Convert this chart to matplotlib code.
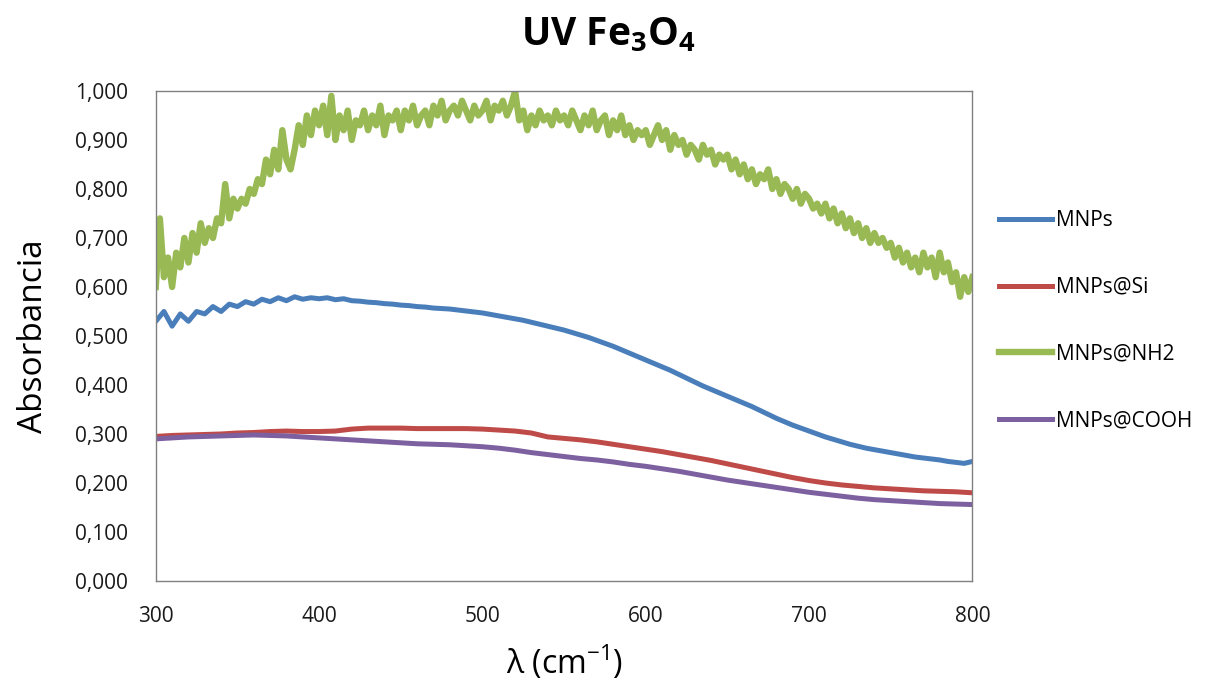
import numpy as np
import matplotlib
matplotlib.use("Agg")
import matplotlib.pyplot as plt
from matplotlib.ticker import FuncFormatter

plt.rcParams['font.family'] = ['Open Sans', 'DejaVu Sans']
plt.rcParams['mathtext.fontset'] = 'custom'
plt.rcParams['mathtext.rm'] = 'Open Sans'
plt.rcParams['mathtext.bf'] = 'Open Sans:bold'

# series data
wl_nh2 = np.arange(300, 800.1, 2.5)
mnps_nh2 = [
    0.60, 0.74, 0.62, 0.66, 0.60, 0.67, 0.64, 0.70, 0.65, 0.71, 0.67, 0.73, 0.69, 0.72, 0.70, 0.74, 0.73, 0.81, 0.74, 0.78,
    0.76, 0.78, 0.77, 0.80, 0.79, 0.82, 0.81, 0.86, 0.83, 0.88, 0.84, 0.92, 0.86, 0.84, 0.88, 0.93, 0.89, 0.95, 0.91, 0.96,
    0.93, 0.97, 0.91, 0.99, 0.90, 0.95, 0.92, 0.96, 0.90, 0.94, 0.93, 0.96, 0.92, 0.95, 0.93, 0.97, 0.91, 0.95, 0.94, 0.96,
    0.92, 0.96, 0.94, 0.97, 0.93, 0.95, 0.96, 0.93, 0.97, 0.95, 0.98, 0.94, 0.96, 0.97, 0.95, 0.98, 0.96, 0.94, 0.97, 0.95,
    0.96, 0.98, 0.94, 0.97, 0.96, 0.98, 0.95, 0.97, 1.00, 0.94, 0.96, 0.92, 0.95, 0.93, 0.96, 0.94, 0.95, 0.93, 0.96, 0.94,
    0.95, 0.93, 0.96, 0.94, 0.92, 0.95, 0.93, 0.96, 0.92, 0.94, 0.95, 0.91, 0.94, 0.92, 0.95, 0.91, 0.93, 0.90, 0.92, 0.91,
    0.92, 0.89, 0.91, 0.93, 0.90, 0.92, 0.88, 0.91, 0.89, 0.90, 0.87, 0.89, 0.88, 0.86, 0.89, 0.87, 0.88, 0.85, 0.87, 0.86,
    0.87, 0.84, 0.86, 0.83, 0.85, 0.82, 0.84, 0.81, 0.83, 0.82, 0.84, 0.80, 0.82, 0.79, 0.81, 0.80, 0.78, 0.80, 0.77, 0.79,
    0.78, 0.76, 0.77, 0.75, 0.77, 0.74, 0.76, 0.73, 0.75, 0.72, 0.74, 0.71, 0.73, 0.70, 0.72, 0.69, 0.71, 0.69, 0.70, 0.68,
    0.69, 0.66, 0.68, 0.65, 0.67, 0.64, 0.66, 0.63, 0.67, 0.64, 0.66, 0.62, 0.67, 0.63, 0.65, 0.61, 0.63, 0.58, 0.62, 0.59,
    0.62,
]

wl_mnps = np.arange(300, 800.1, 5)
mnps = [
    0.53, 0.55, 0.52, 0.545, 0.53, 0.55, 0.545, 0.56, 0.55, 0.565,
    0.56, 0.57, 0.565, 0.575, 0.57, 0.578, 0.572, 0.58, 0.575, 0.578,
    0.576, 0.578, 0.574, 0.576, 0.572, 0.571, 0.569, 0.568, 0.566, 0.565,
    0.563, 0.562, 0.560, 0.559, 0.557, 0.556, 0.555, 0.553, 0.551, 0.549,
    0.547, 0.544, 0.541, 0.538, 0.535, 0.532, 0.528, 0.524, 0.520, 0.516,
    0.512, 0.507, 0.502, 0.497, 0.491, 0.485, 0.479, 0.472, 0.465, 0.458,
    0.451, 0.444, 0.437, 0.430, 0.422, 0.414, 0.406, 0.398, 0.391, 0.384,
    0.377, 0.370, 0.363, 0.356, 0.348, 0.340, 0.332, 0.325, 0.318, 0.312,
    0.306, 0.300, 0.294, 0.289, 0.284, 0.279, 0.275, 0.271, 0.268, 0.265,
    0.262, 0.259, 0.256, 0.253, 0.251, 0.249, 0.247, 0.244, 0.242, 0.240,
    0.244,
]

wl_10 = np.arange(300, 800.1, 10)
mnps_si = [
    0.295, 0.297, 0.298, 0.299, 0.300, 0.302, 0.303, 0.305, 0.306, 0.305,
    0.305, 0.306, 0.310, 0.312, 0.312, 0.312, 0.311, 0.311, 0.311, 0.311,
    0.310, 0.308, 0.306, 0.302, 0.294, 0.291, 0.288, 0.284, 0.279, 0.274,
    0.269, 0.264, 0.258, 0.252, 0.246, 0.239, 0.232, 0.225, 0.218, 0.211,
    0.205, 0.200, 0.196, 0.193, 0.190, 0.188, 0.186, 0.184, 0.183, 0.182,
    0.180,
]
mnps_cooh = [
    0.290, 0.292, 0.294, 0.295, 0.296, 0.297, 0.298, 0.297, 0.296, 0.294,
    0.292, 0.290, 0.288, 0.286, 0.284, 0.282, 0.280, 0.279, 0.278, 0.276,
    0.274, 0.271, 0.267, 0.262, 0.258, 0.254, 0.250, 0.247, 0.243, 0.238,
    0.234, 0.229, 0.224, 0.218, 0.212, 0.206, 0.201, 0.196, 0.191, 0.186,
    0.181, 0.177, 0.173, 0.169, 0.166, 0.164, 0.162, 0.160, 0.158, 0.157,
    0.156,
]

labels = ['MNPs', 'MNPs@Si', 'MNPs@NH2', 'MNPs@COOH']
colors = ['#4A7EBB', '#BE4B48', '#98B954', '#7D60A0']

fig = plt.figure(figsize=(12.17, 6.84), dpi=100)
ax = fig.add_axes([0.128, 0.1506, 0.671, 0.7164])

ax.plot(wl_mnps, mnps, color=colors[0], lw=3.6, label=labels[0])
ax.plot(wl_10, mnps_si, color=colors[1], lw=3.6, label=labels[1])
ax.plot(wl_nh2, mnps_nh2, color=colors[2], lw=4.6, label=labels[2])
ax.plot(wl_10, mnps_cooh, color=colors[3], lw=3.6, label=labels[3])

ax.set_xlim(300, 800)
ax.set_ylim(0, 1.0)
ax.set_xticks(np.arange(300, 801, 100))
ax.set_yticks(np.arange(0, 1.01, 0.1))
ax.yaxis.set_major_formatter(FuncFormatter(lambda v, p: f"{v:.3f}".replace('.', ',')))
ax.tick_params(length=0, labelsize=15, colors='#1a1a1a')
ax.tick_params(axis='y', pad=20)
ax.tick_params(axis='x', pad=18)
for s in ax.spines.values():
    s.set_color('#808080')
    s.set_linewidth(1.0)

ax.set_ylabel('Absorbancia', fontsize=24, labelpad=18)
ax.set_xlabel(r'λ (cm$^{\mathrm{-1}}$)', fontsize=23, labelpad=12)
fig.text(0.5, 0.948, r'UV Fe$_\mathbf{3}$O$_\mathbf{4}$', ha='center', va='center',
         fontsize=28, fontweight='bold')

fig.legend(loc='center left', bbox_to_anchor=(0.821, 0.531), frameon=False,
           fontsize=15, handlelength=2.55, handletextpad=0.2, labelspacing=2.2,
           borderpad=0, borderaxespad=0)

fig.savefig('out.png', dpi=100)
